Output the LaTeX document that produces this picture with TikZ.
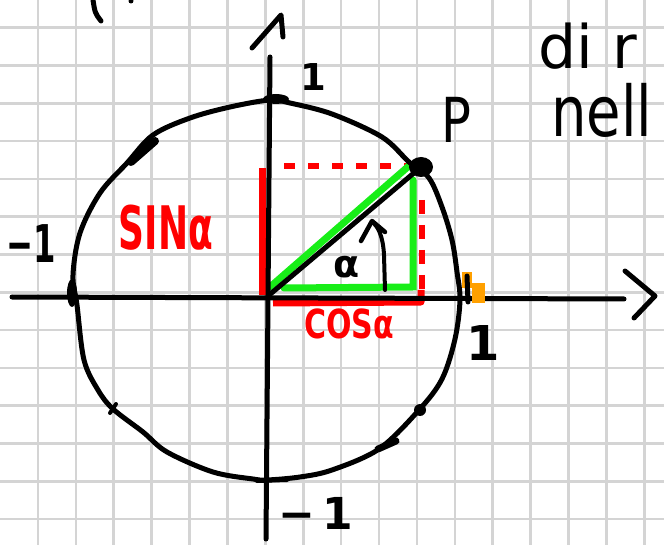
\documentclass[tikz,border=0pt]{standalone}
\usepackage{fontspec}
\usepackage{graphicx}
\setmainfont{DejaVu Sans}
\definecolor{gridgray}{RGB}{212,212,212}
\definecolor{penred}{RGB}{255,0,0}
\definecolor{pengreen}{RGB}{24,238,24}
\definecolor{penorange}{RGB}{255,160,0}
\newcommand{\handsz}[1]{\fontsize{#1}{#1}\selectfont\bfseries}
\newcommand{\thinsz}[1]{\fontsize{#1}{#1}\selectfont}
\begin{document}
\begin{tikzpicture}[x=1pt,y=-1pt,
  gridline/.style={gridgray, line width=2.6pt},
  pen/.style={black, line width=5pt, line cap=round, line join=round},
  redpen/.style={penred, line width=7pt},
  greenpen/.style={pengreen, line width=7pt, line cap=round},
  lbl/.style={inner sep=0pt, text=black}]
\useasboundingbox (0,0) rectangle (664,545);
\clip (0,0) rectangle (664,545);
\fill[white] (0,0) rectangle (664,545);
% squared paper
\foreach \i in {1,...,17} \draw[gridline] (37.9*\i,0) -- (37.9*\i,545);
\foreach \j in {0,...,13} \draw[gridline] (0,27.7+37.8*\j) -- (664,27.7+37.8*\j);
\coordinate (O) at (268,296);
\coordinate (P) at (421,167);
% red and green
\draw[redpen] (262,168) -- (262,295);
\draw[redpen, line width=6pt, dash pattern=on 11pt off 13pt] (284,166) -- (410,166);
\draw[redpen, line width=6pt, dash pattern=on 14pt off 11pt] (422,200) -- (422,292);
\draw[redpen, line join=round] (273,303) -- (421,302) -- (421,290);
\draw[greenpen] (270,287) -- (410,165);
\draw[greenpen] (413,180) -- (413,287) -- (284,288);
% axes
\draw[pen] (12,297) -- (624,299);
\draw[pen] (270,57) -- (266,539);
\draw[pen] (625,271) -- (655,296) -- (634,318);
\draw[pen] (252,48) -- (281,15) -- (283,37);
% circle
\draw[pen] plot[smooth cycle, tension=0.55] coordinates {(270,100) (290,103) (332,114) (382,137) (409,162) (429,178) (442,207) (452,240) (457,272) (460,300) (455,339) (442,379) (419,410) (379,449) (332,470) (300,477) (267,480) (253,479) (213,472) (167,452) (143,432) (113,409) (98,390) (84,360) (77,305) (73,275) (80,233) (100,193) (127,163) (153,135) (190,118) (230,107)};
% marks
\fill[penorange] (462,272) rectangle (472,288);
\fill[penorange] (472,283) rectangle (485,303);
\draw[pen] (467,276) -- (468,302);
\fill (276,99) ellipse [x radius=13pt, y radius=5pt];
\fill (72,293) ellipse [x radius=5pt, y radius=14pt];
\draw[pen, line width=8pt] (131,162) -- (155,141);
\draw[pen, line width=7pt] (378,449) -- (396,441);
\fill (420,410) circle [radius=6pt];
\draw[pen, line width=4pt] (110,413) -- (116,404);
\draw[pen, line width=4pt] (257,481) -- (287,480);
% radius, angle
\draw[pen] (O) -- (P);
\fill (P) ellipse [x radius=12pt, y radius=10pt];
\draw[pen, line width=4pt] (385,290) -- (384,255) .. controls (383,236) and (378,226) .. (372,222);
\draw[pen, line width=4.5pt] (361,241) -- (372,221) -- (385,232);
% scribble at the top
\draw[pen] (93,0) .. controls (95,13) .. (101,21);
\fill (131,1) circle [radius=2.5pt];
% labels
\node[lbl] (ytop) at (313,77) {\handsz{37}1};
\node[lbl] (xright) at (483,343) {\handsz{48}1};
\node[lbl, anchor=west] (xleft) at (6,244) {\scalebox{0.62}[1]{\handsz{52}−1}};
\node[lbl] (ybottom) at (316,513) {\handsz{44}−\,1};
\node[lbl] (plabel) at (456,120) {\scalebox{0.8}[1]{\thinsz{62}P}};
\node[lbl] (alpha) at (347,267) {\handsz{38}α};
\node[lbl, text=penred] (sin) at (166,228) {\scalebox{0.6}[1]{\handsz{60}SINα}};
\node[lbl, text=penred] (cos) at (349,324) {\scalebox{0.75}[1]{\handsz{40}COSα}};
\node[lbl, anchor=west] (di) at (538,46) {\thinsz{60}di r};
\node[lbl, anchor=west] (nell) at (551,110) {\scalebox{0.8}[1]{\thinsz{70}nell}};
\end{tikzpicture}
\end{document}
